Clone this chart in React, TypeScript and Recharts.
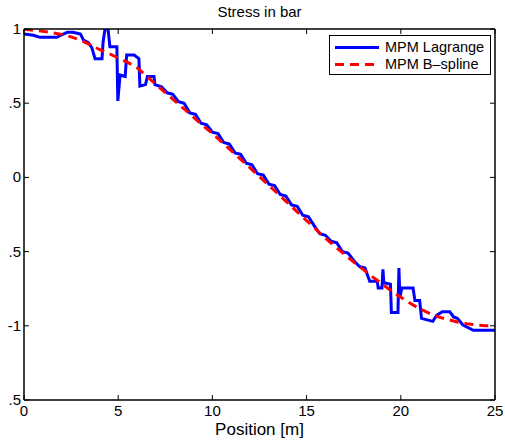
import React from 'react'
import { LineChart, Line, XAxis, YAxis, Legend } from 'recharts'

const xTicks = [0, 5, 10, 15, 20, 25]
const yTicks = [1, 0.5, 0, -0.5, -1, -1.5]
const yTickLabels = ['1', '.5', '0', '.5', '-1', '.5']
const seriesNames = ['MPM Lagrange', 'MPM B–spline']

// MPM Lagrange (solid blue, noisy staircase)
const lagrangeX = [
  0, 0.5, 0.85, 1.75, 1.9, 2.3, 2.6, 3.0, 3.15, 3.4, 3.6, 3.77, 4.14, 4.2, 4.3, 4.46, 4.56, 4.93,
  4.98, 5.1, 5.37, 5.45, 5.85, 6.1, 6.15, 6.45, 6.55, 6.9, 6.95, 7.3, 7.6, 7.9, 8.2, 8.5, 8.8,
  9.1, 9.4, 9.7, 10.0, 10.3, 10.6, 10.9, 11.2, 11.5, 11.8, 12.1, 12.4, 12.7, 13.0, 13.3, 13.6,
  13.9, 14.2, 14.5, 14.8, 15.1, 15.4, 15.7, 16.0, 16.3, 16.6, 16.9, 17.2, 17.5, 17.8, 18.1,
  18.35, 18.75, 18.8, 19.0, 19.05, 19.1, 19.45, 19.5, 19.85, 19.9, 19.95, 20.05, 20.65, 20.75,
  21.0, 21.1, 21.4, 21.7, 21.9, 22.2, 22.6, 22.8, 23.0, 23.3, 23.85, 25,
]
const lagrangeY = [
  0.966, 0.958, 0.944, 0.944, 0.955, 0.978, 0.978, 0.966, 0.926, 0.91, 0.874, 0.8, 0.8, 0.914,
  1.0, 1.0, 0.88, 0.88, 0.515, 0.69, 0.68, 0.825, 0.825, 0.8, 0.615, 0.625, 0.68, 0.68, 0.625,
  0.61, 0.57, 0.56, 0.51, 0.5, 0.435, 0.425, 0.365, 0.355, 0.305, 0.295, 0.235, 0.225, 0.165,
  0.155, 0.095, 0.085, 0.025, 0.015, -0.045, -0.055, -0.115, -0.125, -0.185, -0.195, -0.255,
  -0.265, -0.325, -0.38, -0.39, -0.43, -0.44, -0.5, -0.51, -0.56, -0.6, -0.61, -0.7, -0.7,
  -0.745, -0.745, -0.62, -0.71, -0.72, -0.91, -0.91, -0.61, -0.81, -0.745, -0.745, -0.83, -0.83,
  -0.95, -0.96, -0.97, -0.93, -0.905, -0.905, -0.94, -0.95, -0.995, -1.03, -1.03,
]

// MPM B-spline (dashed red, smooth)
const bsplineX = [
  0, 0.5, 1, 1.5, 2, 2.5, 3, 3.5, 4, 4.5, 5, 5.5, 6, 6.5, 7, 7.5, 8, 8.5, 9, 9.5, 10, 10.5, 11,
  11.5, 12, 12.5, 13, 13.5, 14, 14.5, 15, 15.5, 16, 16.5, 17, 17.5, 18, 18.5, 19, 19.5, 20, 20.5,
  21, 21.5, 22, 22.5, 23, 23.5, 24, 24.5, 25,
]
const bsplineY = [
  0.998, 0.992, 0.984, 0.975, 0.964, 0.947, 0.925, 0.895, 0.862, 0.835, 0.805, 0.775, 0.74,
  0.683, 0.627, 0.572, 0.516, 0.461, 0.405, 0.35, 0.295, 0.238, 0.18, 0.122, 0.064, 0.005,
  -0.054, -0.113, -0.172, -0.232, -0.291, -0.35, -0.41, -0.465, -0.518, -0.57, -0.62, -0.67,
  -0.718, -0.765, -0.808, -0.848, -0.885, -0.915, -0.94, -0.958, -0.974, -0.986, -0.994, -0.999,
  -1.0,
]

const lagrange = lagrangeX.map((x, i) => ({ x, y: lagrangeY[i] }))
const bspline = bsplineX.map((x, i) => ({ x, y: bsplineY[i] }))

const FONT = '"Liberation Sans", Arial, Helvetica, sans-serif'
const TICK_LEN = 5
const axisLine = { stroke: '#000', strokeWidth: 1.5 }

const BottomTick = (props: any) => {
  const { x, y, payload } = props
  return (
    <g>
      <line x1={x} x2={x} y1={y} y2={y - TICK_LEN} stroke="#000" />
      <text x={x} y={y + 16} textAnchor="middle" fontSize={15} fontFamily={FONT} fill="#000">
        {payload.value}
      </text>
    </g>
  )
}

const TopTick = (props: any) => {
  const { x, y } = props
  return <line x1={x} x2={x} y1={y} y2={y + TICK_LEN} stroke="#000" />
}

const LeftTick = (props: any) => {
  const { x, y, payload } = props
  const label = yTickLabels[yTicks.indexOf(payload.value)]
  return (
    <g>
      <line x1={x} x2={x + TICK_LEN} y1={y} y2={y} stroke="#000" />
      <text x={x - 3} y={y + 5} textAnchor="end" fontSize={15} fontFamily={FONT} fill="#000">
        {label}
      </text>
    </g>
  )
}

const RightTick = (props: any) => {
  const { x, y } = props
  return <line x1={x} x2={x - TICK_LEN} y1={y} y2={y} stroke="#000" />
}

const renderLegend = (props: any) => {
  const items = [...(props.payload || [])].sort(
    (a: any, b: any) => seriesNames.indexOf(a.value) - seriesNames.indexOf(b.value)
  )
  return (
    <div
      style={{
        position: 'relative',
        width: 162,
        height: 40,
        boxSizing: 'border-box',
        border: '1px solid #000',
        background: '#fff',
        fontFamily: FONT,
      }}
    >
      {items.map((entry: any, i: number) => (
        <div
          key={i}
          style={{ position: 'absolute', left: 0, top: 3 + i * 17, height: 17, display: 'flex', alignItems: 'center' }}
        >
          <svg width={55} height={17}>
            <line
              x1={5}
              x2={49}
              y1={8.5}
              y2={8.5}
              stroke={entry.color}
              strokeWidth={3}
              strokeDasharray={entry.payload?.strokeDasharray}
            />
          </svg>
          <span style={{ fontSize: 14.5, lineHeight: '17px', color: '#000', whiteSpace: 'nowrap' }}>
            {entry.value}
          </span>
        </div>
      ))}
    </div>
  )
}

const App = () => {
  return (
    <div style={{ position: 'absolute', left: 0, top: 0, width: 505, height: 440, background: '#fff', fontFamily: FONT }}>
      <div
        style={{ position: 'absolute', left: 24, width: 471, top: 4, textAlign: 'center', fontSize: 15, lineHeight: '15px', color: '#000' }}
      >
        Stress in bar
      </div>
      <LineChart width={505} height={440} margin={{ top: 0, right: 0, bottom: 0, left: 0 }}>
        <XAxis
          xAxisId="bottom"
          dataKey="x"
          type="number"
          domain={[0, 25]}
          ticks={xTicks}
          interval={0}
          allowDataOverflow
          height={40}
          tickSize={0}
          tickMargin={0}
          tickLine={false}
          axisLine={axisLine}
          tick={<BottomTick />}
        />
        <XAxis
          xAxisId="top"
          orientation="top"
          dataKey="x"
          type="number"
          domain={[0, 25]}
          ticks={xTicks}
          interval={0}
          allowDataOverflow
          height={29}
          tickSize={0}
          tickMargin={0}
          tickLine={false}
          axisLine={axisLine}
          tick={<TopTick />}
        />
        <YAxis
          yAxisId="left"
          type="number"
          domain={[-1.5, 1]}
          ticks={yTicks}
          interval={0}
          allowDataOverflow
          width={24}
          tickSize={0}
          tickMargin={0}
          tickLine={false}
          axisLine={axisLine}
          tick={<LeftTick />}
        />
        <YAxis
          yAxisId="right"
          orientation="right"
          type="number"
          domain={[-1.5, 1]}
          ticks={yTicks}
          interval={0}
          allowDataOverflow
          width={10}
          tickSize={0}
          tickMargin={0}
          tickLine={false}
          axisLine={axisLine}
          tick={<RightTick />}
        />
        <Legend
          layout="vertical"
          align="center"
          verticalAlign="middle"
          content={renderLegend}
          wrapperStyle={{ top: 35, left: 329, width: 162, height: 40 }}
        />
        <Line
          data={lagrange}
          dataKey="y"
          name={seriesNames[0]}
          xAxisId="bottom"
          yAxisId="left"
          type="linear"
          stroke="#0000ff"
          strokeWidth={3}
          dot={false}
          activeDot={false}
          isAnimationActive={false}
        />
        <Line
          data={bspline}
          dataKey="y"
          name={seriesNames[1]}
          xAxisId="bottom"
          yAxisId="left"
          type="linear"
          stroke="#ff0000"
          strokeWidth={3}
          strokeDasharray="9 6"
          dot={false}
          activeDot={false}
          isAnimationActive={false}
        />
      </LineChart>
      <div
        style={{ position: 'absolute', left: 24, width: 471, top: 421, textAlign: 'center', fontSize: 17, lineHeight: '17px', color: '#000' }}
      >
        Position [m]
      </div>
    </div>
  )
}

export default App
